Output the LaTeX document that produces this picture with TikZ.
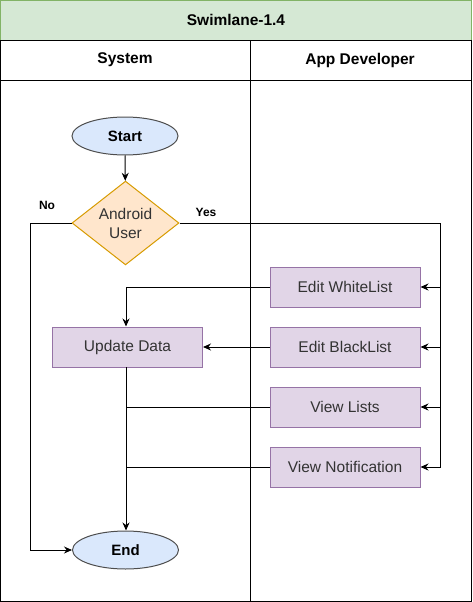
\documentclass[tikz,border=0pt]{standalone}
\usepackage{fontspec}
\setmainfont{Liberation Sans}
\usetikzlibrary{arrows.meta,shapes.geometric}

\definecolor{poolFill}{HTML}{D5E8D4}
\definecolor{poolLine}{HTML}{82B366}
\definecolor{termFill}{HTML}{DAE8FC}
\definecolor{termLine}{HTML}{4D4D4D}
\definecolor{decFill}{HTML}{FFE6CC}
\definecolor{decLine}{HTML}{D79B00}
\definecolor{procFill}{HTML}{E1D5E7}
\definecolor{procLine}{HTML}{9673A6}

\begin{document}
\begin{tikzpicture}[x=1pt, y=-1pt, line width=1pt,
        terminal/.style={ellipse, draw=termLine, fill=termFill, minimum width=106pt,
                minimum height=38pt, inner sep=0pt, font=\fontsize{15}{18}\selectfont\bfseries},
        decision/.style={diamond, draw=decLine, fill=decFill, minimum width=107pt,
                minimum height=80pt, inner sep=0pt, align=center, text=black!80,
                font=\fontsize{15.5}{19}\selectfont},
        process/.style={rectangle, draw=procLine, fill=procFill, minimum width=150pt,
                minimum height=40pt, inner sep=0pt, text=black!80, font=\fontsize{15.5}{18}\selectfont},
        header/.style={font=\fontsize{15.5}{18}\selectfont\bfseries},
        lbl/.style={font=\fontsize{12}{14}\selectfont\bfseries},
        flow/.style={-{Stealth[length=8pt,width=7pt]}}]

    \useasboundingbox (0,0) rectangle (472,602);

    % swimlane frame
    \draw[draw=poolLine, fill=poolFill] (0.5,0.5) rectangle (471.5,40.5);
    \draw (0.5,40.5) rectangle (471.5,601.5);
    \draw (0.5,80.5) -- (471.5,80.5);
    \draw (250.5,40.5) -- (250.5,601.5);

    \node[header] (pool) at (236,20) {Swimlane-1.4};
    \node[header] (laneSys) at (125,60) {System};
    \node[header] (laneDev) at (360,60) {App Developer};

    % system lane
    \node[terminal] (start) at (125,136) {Start};
    \node[decision] (android) at (125.5,223) {Android\\User};
    \node[process] (update) at (127.5,347) {Update Data};
    \node[terminal] (end) at (125.5,550) {End};

    % developer lane
    \node[process] (white) at (345,287) {Edit WhiteList};
    \node[process] (black) at (345,347) {Edit BlackList};
    \node[process] (lists) at (345,407) {View Lists};
    \node[process] (notif) at (345,467) {View Notification};

    \coordinate (yesR) at (440,223);
    \coordinate (noL) at (30,223);
    \coordinate (join) at (126,367);

    \node[lbl] (no) at (47,205) {No};
    \node[lbl] (yes) at (206,212) {Yes};

    % connectors
    \draw[flow] (start) -- (android);
    \draw[flow] (android.east) -- (yesR) |- (white.east);
    \draw[flow] (yesR) |- (black.east);
    \draw[flow] (yesR) |- (lists.east);
    \draw[flow] (yesR) |- (notif.east);
    \draw[flow] (android.west) -- (noL) |- (end.west);
    \draw[flow] (white.west) -| (update.north -| join);
    \draw[flow] (black.west) -- (update.east);
    \draw[flow] (join) -- (end.north -| join);
    \draw (lists.west) -- (lists.west -| join);
    \draw (notif.west) -- (notif.west -| join);
\end{tikzpicture}
\end{document}
